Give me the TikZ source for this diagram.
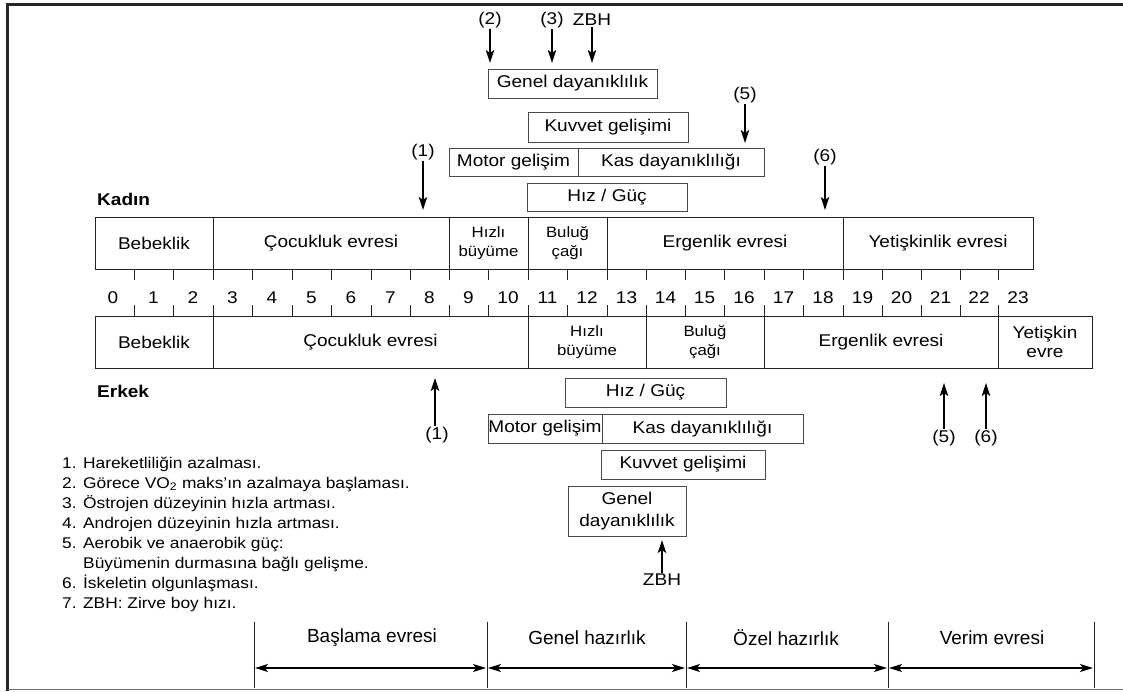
\documentclass[tikz,border=0pt]{standalone}
\usepackage{fontspec}
\setmainfont{Liberation Sans}[FakeStretch=1.12]
\newfontfamily\phasefont{Liberation Sans}
\usetikzlibrary{arrows.meta}
\newcommand\fmain{\fontsize{17}{19}\selectfont}
\newcommand\fsmall{\fontsize{15}{19}\selectfont}
\newcommand\fleg{\fontsize{15.5}{20}\selectfont}
\newcommand\fphase{\phasefont\fontsize{19}{22}\selectfont}
\definecolor{boxline}{HTML}{4A4A4A}
\definecolor{divline}{HTML}{222222}
\tikzset{
  cell/.style={draw=divline, line width=1pt, inner sep=0pt, minimum height=52pt, align=center, font=\fmain},
  smallcell/.style={cell, font=\fsmall},
  gbox/.style={draw=boxline, line width=1pt, inner sep=0pt, align=center, font=\fmain},
  tickline/.style={draw=divline, line width=1pt},
  numlab/.style={font=\fmain, inner sep=0pt},
  plabel/.style={font=\fmain, inner sep=1pt},
  arr/.style={line width=1.4pt, -{Stealth[length=13pt,width=8.5pt,inset=3pt]}},
  phasearr/.style={line width=1.3pt, {Stealth[length=13pt,width=8pt,inset=3pt]}-{Stealth[length=13pt,width=8pt,inset=3pt]}},
  legline/.style={font=\fleg, anchor=base west, inner sep=0pt},
  phaselab/.style={font=\fphase, inner sep=0pt},
  sexlab/.style={font=\fmain\bfseries, anchor=west, inner sep=0pt}
}
\begin{document}
\begin{tikzpicture}[x=1pt,y=-1pt]
\useasboundingbox (0,0) rectangle (1123,691);
% frame
\draw[line width=2.5pt, black!85] (7.5,691) -- (7.5,4.5) -- (1123,4.5);
\draw[line width=1.5pt, black!55] (7.5,689.5) -- (1123,689.5);

% Kadin row
\node[sexlab] (kadin) at (97,199) {Kadın};
\node[cell, minimum width=118pt] (k1) at (154,243) {Bebeklik};
\node[cell, minimum width=236pt] (k2) at (331,243) {Çocukluk evresi};
\node[smallcell, minimum width=79pt] (k3) at (488.5,243) {Hızlı\\büyüme};
\node[smallcell, minimum width=79pt] (k4) at (567.5,243) {Buluğ\\çağı};
\node[cell, minimum width=236pt] (k5) at (725,243) {Ergenlik evresi};
\node[cell, minimum width=190pt] (k6) at (938,243) {Yetişkinlik evresi};

% Erkek row
\node[cell, minimum width=118pt] (e1) at (154,342) {Bebeklik};
\node[cell, minimum width=315pt] (e2) at (370.5,342) {Çocukluk evresi};
\node[smallcell, minimum width=118pt] (e3) at (587,342) {Hızlı\\büyüme};
\node[smallcell, minimum width=118pt] (e4) at (705,342) {Buluğ\\çağı};
\node[cell, minimum width=234pt] (e5) at (881,342) {Ergenlik evresi};
\node[cell, minimum width=94pt] (e6) at (1045,342) {Yetişkin\\evre};
\node[sexlab] (erkek) at (97,391) {Erkek};

% ticks
\foreach \x in {134,173,213,252,292,331,371,410,449,488,528,567,607,646,685,724,764,803,843,882,921,960,998} {
  \draw[tickline] (\x,269) -- (\x,280);
  \draw[tickline] (\x,305) -- (\x,316);
}
% numbers
\foreach \n/\x in {0/113,1/153.5,2/193,3/232.5,4/272,5/311.5,6/351,7/390.5,8/429.5,9/468.5,10/508,11/547.5,12/587,13/626.5,14/665.5,15/704.5,16/744,17/783.5,18/823,19/862.5,20/901.5,21/940.5,22/979,23/1018} {
  \node[numlab] (n\n) at (\x,298) {\n};
}

% top group boxes
\node[gbox, minimum width=169pt, minimum height=29pt] (g1) at (572.5,83.5) {Genel dayanıklılık};
\node[gbox, minimum width=160pt, minimum height=30pt] (g2) at (608,127) {Kuvvet gelişimi};
\node[gbox, minimum width=129pt, minimum height=28pt] (g3) at (513.5,162) {Motor gelişim};
\node[gbox, minimum width=186pt, minimum height=28pt] (g4) at (671,162) {Kas dayanıklılığı};
\node[gbox, minimum width=160pt, minimum height=28pt] (g5) at (607,197) {Hız / Güç};

% top arrows
\node[plabel] (l2) at (490,20) {(2)};
\node[plabel] (l3) at (552,20) {(3)};
\node[plabel] (lz) at (592,20) {ZBH};
\coordinate (a2) at (490,63);
\coordinate (a3) at (552,63);
\coordinate (az) at (592,63);
\draw[arr] (l2) -- (a2);
\draw[arr] (l3) -- (a3);
\draw[arr] (lz) -- (az);
\node[plabel] (l5t) at (745,95) {(5)};
\coordinate (a5t) at (745,143);
\draw[arr] (l5t) -- (a5t);
\node[plabel] (l1t) at (423,152) {(1)};
\coordinate (a1t) at (423,210);
\draw[arr] (l1t) -- (a1t);
\node[plabel] (l6t) at (825,157) {(6)};
\coordinate (a6t) at (825,210);
\draw[arr] (l6t) -- (a6t);

% bottom group boxes
\node[gbox, minimum width=161pt, minimum height=29pt] (b1) at (645.5,392.5) {Hız / Güç};
\node[gbox, minimum width=114pt, minimum height=29pt] (b2) at (545,428.5) {Motor gelişim};
\node[gbox, minimum width=201pt, minimum height=29pt] (b3) at (702.5,428.5) {Kas dayanıklılığı};
\node[gbox, minimum width=164pt, minimum height=29pt] (b4) at (683,464.5) {Kuvvet gelişimi};
\node[gbox, minimum width=118pt, minimum height=50pt, font=\fontsize{17}{22}\selectfont] (b5) at (627,511) {Genel\\dayanıklılık};

% bottom arrows
\node[plabel] (l1b) at (437,435) {(1)};
\coordinate (a1b) at (435,378);
\draw[arr] (l1b.north -| a1b) -- (a1b);
\node[plabel] (l5b) at (944,438) {(5)};
\coordinate (a5b) at (944,383);
\draw[arr] (l5b) -- (a5b);
\node[plabel] (l6b) at (986,438) {(6)};
\coordinate (a6b) at (986,383);
\draw[arr] (l6b) -- (a6b);
\node[plabel] (lzb) at (662,580) {ZBH};
\coordinate (azb) at (662,540);
\draw[arr] (lzb) -- (azb);

% legend
\node[legline] (leg1) at (62,468) {1. Hareketliliğin azalması.};
\node[legline] (leg2) at (62,488) {2. Görece VO\textsubscript{2} maks’ın azalmaya başlaması.};
\node[legline] (leg3) at (62,508) {3. Östrojen düzeyinin hızla artması.};
\node[legline] (leg4) at (62,528) {4. Androjen düzeyinin hızla artması.};
\node[legline] (leg5) at (62,548) {5. Aerobik ve anaerobik güç:};
\node[legline] (leg5b) at (83,568) {Büyümenin durmasına bağlı gelişme.};
\node[legline] (leg6) at (62,588) {6. İskeletin olgunlaşması.};
\node[legline] (leg7) at (62,608) {7. ZBH: Zirve boy hızı.};

% training phases
\coordinate (p0t) at (254,622); \coordinate (p0b) at (254,688);
\coordinate (p1t) at (487,622); \coordinate (p1b) at (487,688);
\coordinate (p2t) at (686,622); \coordinate (p2b) at (686,688);
\coordinate (p3t) at (888,622); \coordinate (p3b) at (888,688);
\coordinate (p4t) at (1094,622); \coordinate (p4b) at (1094,688);
\foreach \i in {0,...,4} { \draw[line width=1pt, divline] (p\i t) -- (p\i b); }
\node[phaselab] (ph1) at (372,638) {Başlama evresi};
\node[phaselab] (ph2) at (587,638) {Genel hazırlık};
\node[phaselab] (ph3) at (786,638) {Özel hazırlık};
\node[phaselab] (ph4) at (992,638) {Verim evresi};
\coordinate (q0) at (255,668); \coordinate (q1a) at (486,668);
\coordinate (q1b) at (488,668); \coordinate (q2a) at (685,668);
\coordinate (q2b) at (687,668); \coordinate (q3a) at (887,668);
\coordinate (q3b) at (889,668); \coordinate (q4) at (1093,668);
\draw[phasearr] (q0) -- (q1a);
\draw[phasearr] (q1b) -- (q2a);
\draw[phasearr] (q2b) -- (q3a);
\draw[phasearr] (q3b) -- (q4);
\end{tikzpicture}
\end{document}
